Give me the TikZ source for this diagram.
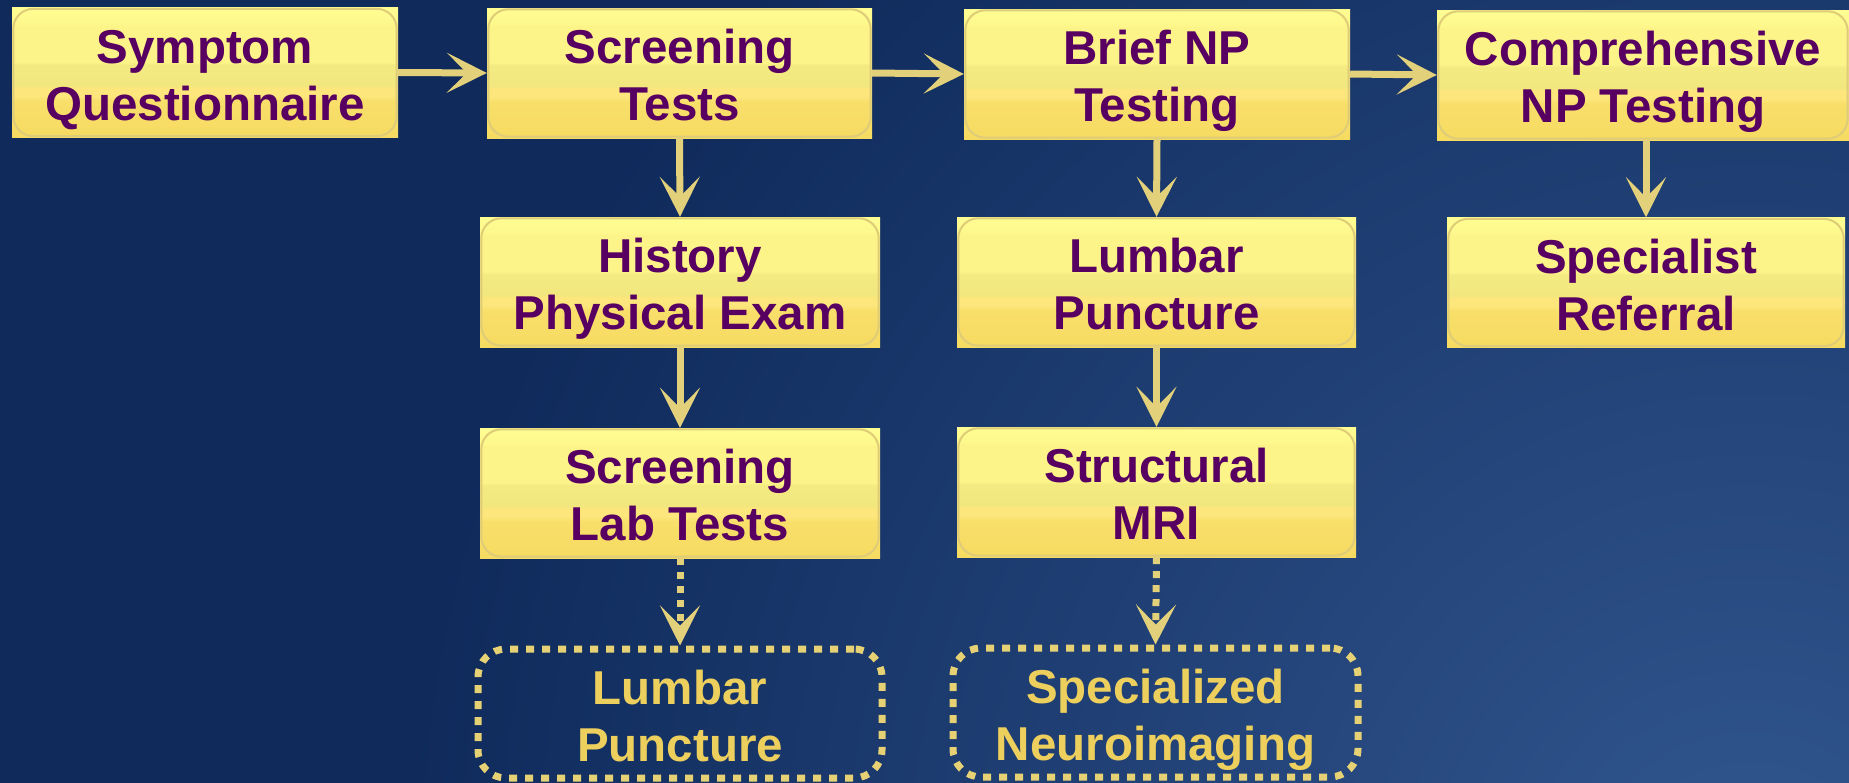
\documentclass[tikz,border=0pt]{standalone}
\usepackage{fontspec}
\setmainfont{Liberation Sans}
\usetikzlibrary{arrows.meta}

% palette
\definecolor{bgdark}{HTML}{0F2A5B}
\definecolor{bglight}{HTML}{31568F}
\definecolor{inkpurple}{RGB}{88,0,98}
\definecolor{arrowgold}{HTML}{E2D07A}
\definecolor{dotgold}{HTML}{E6D274}
\definecolor{dottext}{HTML}{ECCF5C}
\definecolor{edgegold}{HTML}{DECC78}
\definecolor{ya}{HTML}{FFFD92}
\definecolor{yb}{HTML}{FEF88C}
\definecolor{yc}{HTML}{FCF488}
\definecolor{yd}{HTML}{F3EB81}
\definecolor{ye}{HTML}{F1E77E}
\definecolor{yf}{HTML}{FDE67C}
\definecolor{yg}{HTML}{F8DF6A}
\definecolor{yh}{HTML}{F6DB62}

% banded yellow fill of the step boxes (visible range 25bp..75bp, bottom to top)
\pgfdeclareverticalshading{yellowband}{100bp}{%
  color(0bp)=(yh); color(25bp)=(yh); color(39bp)=(yg); color(41bp)=(yf);
  color(44bp)=(yf); color(45bp)=(ye); color(53bp)=(yd); color(54bp)=(yc);
  color(68bp)=(yc); color(69bp)=(yb); color(75bp)=(ya); color(100bp)=(ya)}

% soft glow of the backdrop; it fades out well inside the circle it fills
\pgfdeclareradialshading{backglow}{\pgfpoint{0bp}{0bp}}{%
  color(0bp)=(bglight); color(17.5bp)=(bgdark); color(25bp)=(bgdark); color(50bp)=(bgdark)}

\begin{document}
\begin{tikzpicture}[x=1pt,y=-1pt,
  % two-line labels: an invisible strut fixes the label box (110pt above,
  % 15pt below the last baseline) so every box places its lines alike
  boxfont/.style={font=\fontsize{47.5}{57}\selectfont\bfseries,
    execute at begin node={\rule[-15pt]{0pt}{125pt}}},
  ybox/.style={boxfont, shading=yellowband, inner sep=0pt, align=center,
    text=inkpurple, minimum height=130pt},
  yedge/.style={draw=edgegold, line width=2pt, rounded corners=20pt},
  optbox/.style={boxfont, draw=dotgold, line width=7pt, dash pattern=on 8pt off 8pt,
    rounded corners=28pt, inner sep=0pt, align=center, text=dottext,
    minimum height=129pt},
  flow/.style={draw=arrowgold, line width=7pt,
    -{Stealth[length=40pt, width=40pt, inset=20pt]}},
  optflow/.style={flow, dash pattern=on 7pt off 7pt}]

% background
\useasboundingbox (0,0) rectangle (1849,782);
\fill[bgdark] (0,0) rectangle (1849,782);
\begin{scope}
  \clip (0,0) rectangle (1849,782);
  \shade[shading=backglow] (1750,900) circle (1930);
\end{scope}

% main path
\node[ybox, minimum width=386pt] (q)   at (205,72.5)  {Symptom\\Questionnaire};
\node[ybox, minimum width=385pt] (st)  at (679.5,73)  {Screening\\Tests};
\node[ybox, minimum width=386pt] (bnp) at (1157,74)   {Brief NP\\Testing};
\node[ybox, minimum width=412pt] (cnp) at (1643,75)   {Comprehensive\\NP Testing};

% follow-up steps
\node[ybox, minimum width=400pt] (hpe) at (680,282)    {History\\Physical Exam};
\node[ybox, minimum width=400pt] (lab) at (680,493)    {Screening\\Lab Tests};
\node[ybox, minimum width=399pt] (lp)  at (1156.5,282) {Lumbar\\Puncture};
\node[ybox, minimum width=399pt] (mri) at (1156.5,492) {Structural\\MRI};
\node[ybox, minimum width=398pt] (sr)  at (1646,282.5) {Specialist\\Referral};

% optional steps
\node[optbox, minimum width=404pt] (olp) at (680,713.5)    {Lumbar\\Puncture};
\node[optbox, minimum width=405pt] (osn) at (1155.5,712.5) {Specialized\\Neuroimaging};

% rounded rims of the yellow boxes
\foreach \n in {q,st,bnp,cnp,hpe,lab,lp,mri,sr}
  \draw[yedge] ([xshift=1.5pt,yshift=-1.5pt]\n.north west) rectangle
               ([xshift=-1.5pt,yshift=1.5pt]\n.south east);

% connectors
\draw[flow] (q.east) -- (st.west);
\draw[flow] (st.east) -- (bnp.west);
\draw[flow] (bnp.east) -- (cnp.west);
\draw[flow] (st.south) -- (hpe.north);
\draw[flow] (hpe.south) -- (lab.north);
\draw[flow] (bnp.south) -- (lp.north);
\draw[flow] (lp.south) -- (mri.north);
\draw[flow] (sr.north |- cnp.south) -- (sr.north);
\draw[optflow] (lab.south) -- (olp.north);
\draw[optflow] (mri.south) -- (osn.north);
\end{tikzpicture}
\end{document}
